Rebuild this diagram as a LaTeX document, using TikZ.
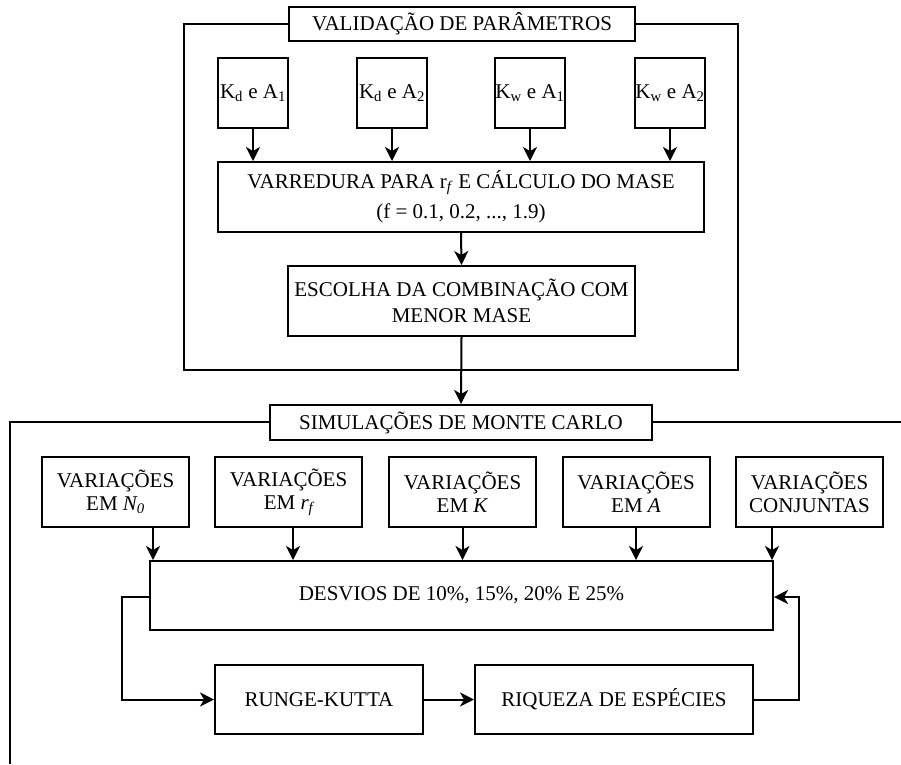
\documentclass[tikz,border=0pt]{standalone}
\usepackage{fontspec}
\setmainfont{Liberation Serif}
\usetikzlibrary{arrows.meta}
\begin{document}
\begin{tikzpicture}[x=1pt,y=-1pt,
  lw/.style={line width=2pt},
  box/.style={draw,lw,fill=white,align=center,inner sep=0pt,font=\fontsize{21}{23}\selectfont},
  arr/.style={lw,-{Stealth[length=14pt,width=14pt,inset=4pt]}}]
\useasboundingbox (0,0) rectangle (901,764);
% containers
\draw[lw] (184,24) rectangle (738,370);
\draw[lw] (10,764) -- (10,422) -- (901,422);
% top block
\node[box,minimum width=346pt,minimum height=34pt] (t1) at (462,24) {VALIDAÇÃO DE PARÂMETROS};
\node[box,minimum width=70pt,minimum height=70pt] (k1) at (253,93) {K\textsubscript{d} e A\textsubscript{1}};
\node[box,minimum width=70pt,minimum height=70pt] (k2) at (392,93) {K\textsubscript{d} e A\textsubscript{2}};
\node[box,minimum width=70pt,minimum height=70pt] (k3) at (530,93) {K\textsubscript{w} e A\textsubscript{1}};
\node[box,minimum width=70pt,minimum height=70pt] (k4) at (670,93) {K\textsubscript{w} e A\textsubscript{2}};
\node[box,minimum width=486pt,minimum height=70pt] (var) at (461,197) {VARREDURA PARA r\textsubscript{\textit{f}} E CÁLCULO DO MASE\\[7pt](f = 0.1, 0.2, ..., 1.9)};
\node[box,minimum width=347pt,minimum height=70pt] (esc) at (461.5,301) {ESCOLHA DA COMBINAÇÃO COM\\[3pt]MENOR MASE};
\foreach \k in {k1,k2,k3,k4} \draw[arr] (\k.south) -- (\k.south |- var.north);
\draw[arr] (var.south) -- (esc.north);
% bottom block
\node[box,minimum width=382pt,minimum height=35pt] (mc) at (461,422.5) {SIMULAÇÕES DE MONTE CARLO};
\draw[arr] (esc.south) -- (mc.north);
\node[box,minimum width=147pt,minimum height=70pt] (v1) at (115.5,492) {VARIAÇÕES\\EM \textit{N\textsubscript{0}}};
\node[box,minimum width=147pt,minimum height=70pt] (v2) at (288.5,492) {VARIAÇÕES\\EM \textit{r\textsubscript{f}}};
\node[box,minimum width=147pt,minimum height=70pt] (v3) at (462.5,492) {VARIAÇÕES\\EM \textit{K}};
\node[box,minimum width=147pt,minimum height=70pt] (v4) at (636,492) {VARIAÇÕES\\EM \textit{A}};
\node[box,minimum width=147pt,minimum height=70pt] (v5) at (809.5,492) {VARIAÇÕES\\CONJUNTAS};
\node[box,minimum width=623pt,minimum height=69pt] (des) at (461.5,595.5) {DESVIOS DE 10\%, 15\%, 20\% E 25\%};
\node[box,minimum width=208pt,minimum height=69pt] (rk) at (319,699.5) {RUNGE-KUTTA};
\node[box,minimum width=278pt,minimum height=69pt] (riq) at (614,699.5) {RIQUEZA DE ESPÉCIES};
\draw[arr] ([xshift=37.5pt]v1.south) -- ([xshift=37.5pt]v1.south |- des.north);
\draw[arr] ([xshift=4.5pt]v2.south) -- ([xshift=4.5pt]v2.south |- des.north);
\draw[arr] (v3.south) -- (v3.south |- des.north);
\draw[arr] (v4.south) -- (v4.south |- des.north);
\draw[arr] ([xshift=-37.5pt]v5.south) -- ([xshift=-37.5pt]v5.south |- des.north);
\coordinate (lw1) at (122,597);
\coordinate (rw1) at (799,597);
\draw[arr] (des.west |- lw1) -- (lw1) |- (rk.west);
\draw[arr] (rk.east) -- (riq.west);
\draw[arr] (riq.east) -| (rw1) -- (des.east |- rw1);
\end{tikzpicture}
\end{document}
